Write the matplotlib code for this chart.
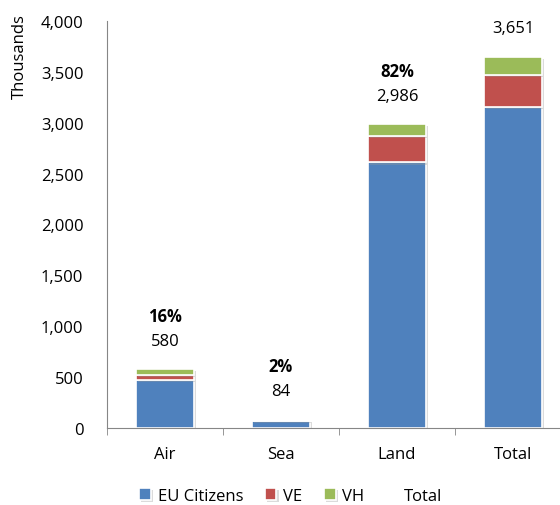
import matplotlib
matplotlib.use("Agg")
import matplotlib.pyplot as plt
import matplotlib.patheffects as pe
from matplotlib.ticker import FuncFormatter
import numpy as np

categories = ["Air", "Sea", "Land", "Total"]
eu_citizens = [470, 72, 2610, 3152]
ve = [50, 4, 262, 316]
vh = [60, 8, 114, 183]
totals = [580, 84, 2986, 3651]
shares = ["16%", "2%", "82%", ""]

plt.rcParams['font.family'] = ['Open Sans', 'DejaVu Sans']
fs = 12

fig = plt.figure(figsize=(5.6, 5.06), dpi=100)
ax = fig.add_axes([107/560, 1 - 429/506, 464/560, 407/506])

x = np.arange(len(categories))
w = 0.5
shadow = [pe.SimplePatchShadow(offset=(1.5, -1.5), shadow_rgbFace="#999999", alpha=0.35), pe.Normal()]
b1 = ax.bar(x, eu_citizens, w, color="#4F81BD", edgecolor="white", linewidth=1.2, label="EU Citizens", path_effects=shadow)
b2 = ax.bar(x, ve, w, bottom=eu_citizens, color="#C0504D", edgecolor="white", linewidth=1.2, label="VE", path_effects=shadow)
bot = np.array(eu_citizens) + np.array(ve)
b3 = ax.bar(x, vh, w, bottom=bot, color="#9BBB59", edgecolor="white", linewidth=1.2, label="VH", path_effects=shadow)
b4 = ax.bar(x, [0]*4, w, color="white", label="Total")

for i in range(len(categories)):
    ax.annotate(f"{totals[i]:,}", (x[i], totals[i]), xytext=(0, 20.5), textcoords="offset points",
                ha="center", va="center", fontsize=fs)
    if shares[i]:
        ax.annotate(shares[i], (x[i], totals[i]), xytext=(0, 38.5), textcoords="offset points",
                    ha="center", va="center", fontsize=fs, fontweight="bold")

ax.set_xlim(-0.5, 3.5)
ax.set_ylim(0, 4000)
ax.set_yticks(np.arange(0, 4001, 500))
ax.yaxis.set_major_formatter(FuncFormatter(lambda v, p: f"{int(v):,}"))
ax.set_xticks(x)
ax.set_xticklabels(categories)
ax.set_xticks(np.arange(-0.5, 4, 1), minor=True)
ax.tick_params(axis="y", length=0, pad=17, labelsize=fs, colors="#000000")
ax.tick_params(axis="x", which="major", length=0, pad=13, labelsize=fs)
ax.tick_params(axis="x", which="minor", length=5, color="#868686")
for s in ["top", "right"]:
    ax.spines[s].set_visible(False)
for s in ["left", "bottom"]:
    ax.spines[s].set_color("#868686")

fig.text(20/560, 1 - 57/506, "Thousands", rotation=90, ha="center", va="center", fontsize=fs)

fig.legend(handles=[b1, b2, b3, b4], loc="center", bbox_to_anchor=(291/560, 1 - 497/506),
           ncol=4, frameon=False, fontsize=fs, handlelength=0.7, handleheight=0.7,
           handletextpad=0.4, columnspacing=1.3)

plt.savefig("out.png", dpi=100)
